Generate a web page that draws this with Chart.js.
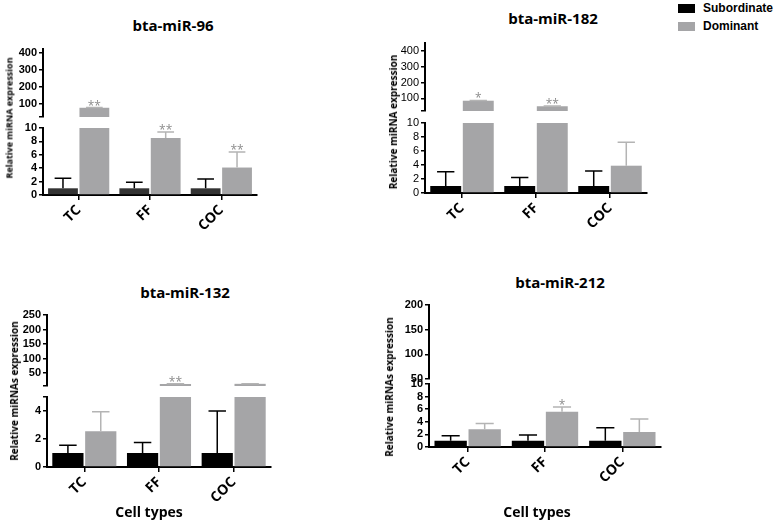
<!DOCTYPE html>
<html lang="en">
<head>
    <meta charset="utf-8">
    <title>miRNA expression in subordinate and dominant follicles</title>
    <style>
        body { margin: 0; background: #fff; }
        #page { position: relative; width: 774px; height: 522px; overflow: hidden; font-family: "Open Sans", sans-serif; }
        #page canvas { position: absolute; }
        .title { position: absolute; font-weight: bold; font-size: 15px; line-height: 20px; white-space: nowrap; transform: translateX(-50%); }
        .ytitle { position: absolute; font-weight: bold; white-space: nowrap; transform: translate(-50%, -50%) rotate(-90deg); }
        .xtitle { position: absolute; font-weight: bold; font-size: 14px; line-height: 18px; white-space: nowrap; transform: translate(-50%, -50%); }
        .legend { position: absolute; left: 678px; top: 0; font-family: "Liberation Sans", Arial, sans-serif; font-weight: bold; font-size: 12px; }
        .legend div { position: relative; height: 18px; line-height: 16px; padding-left: 25px; }
        .legend span { position: absolute; left: 0; top: 4px; width: 17px; height: 9px; }
    </style>
</head>
<body>
    <div id="page">
        <div class="legend">
            <div><span style="background:#000"></span>Subordinate</div>
            <div><span style="background:#a5a5a7"></span>Dominant</div>
        </div>
    </div>
    <script src="https://cdn.jsdelivr.net/npm/chart.js"></script>

    <script>
        var categories = ['TC', 'FF', 'COC'];

        // bta-miR-96
        var mir96Sub = [1, 1, 1];
        var mir96SubErr = [1.5, 0.9, 1.4];
        var mir96Dom = [75, 8.5, 4.1];
        var mir96DomErr = [1.5, 0.9, 2.3];
        var mir96Stars = ['**', '**', '**'];
        var mir96UpperTicks = [100, 200, 300, 400];
        var mir96LowerTicks = [0, 2, 4, 6, 8, 10];

        // bta-miR-182
        var mir182Sub = [1, 1, 1];
        var mir182SubErr = [2.05, 1.2, 2.15];
        var mir182Dom = [85, 50, 3.9];
        var mir182DomErr = [1.5, 1.5, 3.35];
        var mir182Stars = ['*', '**', ''];
        var mir182UpperTicks = [100, 200, 300, 400];
        var mir182LowerTicks = [0, 2, 4, 6, 8, 10];

        // bta-miR-132
        var mir132Sub = [1, 1, 1];
        var mir132SubErr = [0.55, 0.75, 3.0];
        var mir132Dom = [2.55, 12, 12.5];
        var mir132DomErr = [1.4, 0.4, 0.6];
        var mir132Stars = ['', '**', ''];
        var mir132UpperTicks = [50, 100, 150, 200, 250];
        var mir132LowerTicks = [0, 2, 4];

        // bta-miR-212
        var mir212Sub = [1, 1, 1];
        var mir212SubErr = [0.8, 0.9, 2.05];
        var mir212Dom = [2.8, 5.6, 2.4];
        var mir212DomErr = [0.95, 0.75, 2.05];
        var mir212Stars = ['', '*', ''];
        var mir212UpperTicks = [50, 100, 150, 200];
        var mir212LowerTicks = [0, 2, 4, 6, 8, 10];

        var DOM_COLOR = '#a5a5a7';
        var Y_W = 40;

        var panels = [
            { title: 'bta-miR-96', tx: 173, ty: 15, sub: mir96Sub, subErr: mir96SubErr, dom: mir96Dom, domErr: mir96DomErr, stars: mir96Stars,
              subColor: '#333', tickWeight: 'bold', axisX: 43, right: 257,
              upper: { top: 49, bottom: 117, min: 20, max: 425, ticks: mir96UpperTicks },
              lower: { top: 128, bottom: 195, min: 0, max: 10, ticks: mir96LowerTicks },
              yTitle: 'Relative miRNA expression', yx: 9, yy: 118, ySize: 9 },
            { title: 'bta-miR-182', tx: 553, ty: 8, sub: mir182Sub, subErr: mir182SubErr, dom: mir182Dom, domErr: mir182DomErr, stars: mir182Stars,
              subColor: '#000', tickWeight: 'normal', axisX: 425, right: 647,
              upper: { top: 43, bottom: 111, min: 20, max: 450, ticks: mir182UpperTicks },
              lower: { top: 123, bottom: 193, min: 0, max: 10, ticks: mir182LowerTicks },
              yTitle: 'Relative miRNA expression', yx: 393, yy: 122, ySize: 10 },
            { title: 'bta-miR-132', tx: 185, ty: 282, sub: mir132Sub, subErr: mir132SubErr, dom: mir132Dom, domErr: mir132DomErr, stars: mir132Stars,
              subColor: '#000', tickWeight: 'bold', axisX: 47, right: 271,
              upper: { top: 315, bottom: 386, min: 5, max: 250, ticks: mir132UpperTicks },
              lower: { top: 397, bottom: 467, min: 0, max: 5, ticks: mir132LowerTicks },
              yTitle: 'Relative miRNAs expression', yx: 14, yy: 391, ySize: 10, xTitle: 'Cell types', xx: 149, xy: 512 },
            { title: 'bta-miR-212', tx: 560, ty: 272, sub: mir212Sub, subErr: mir212SubErr, dom: mir212Dom, domErr: mir212DomErr, stars: mir212Stars,
              subColor: '#000', tickWeight: 'bold', axisX: 429, right: 661,
              upper: { top: 305, bottom: 379, min: 50, max: 200, ticks: mir212UpperTicks },
              lower: { top: 384, bottom: 447, min: 0, max: 10, ticks: mir212LowerTicks },
              yTitle: 'Relative miRNAs expression', yx: 389, yy: 387, ySize: 10, xTitle: 'Cell types', xx: 537, xy: 512 }
        ];

        // one-sided error bars and significance stars, placed with the y scale
        var errorBars = {
            id: 'errorBars',
            afterDatasetsDraw: function(chart) {
                var ctx = chart.ctx, y = chart.scales.y;
                chart.data.datasets.forEach(function(ds, di) {
                    chart.getDatasetMeta(di).data.forEach(function(bar, i) {
                        var v = ds.data[i];
                        if (v > y.max || v < y.min) return;
                        var top = y.getPixelForValue(v + ds.errors[i]);
                        var half = bar.width * 0.28;
                        ctx.save();
                        ctx.strokeStyle = ds.errorColor;
                        ctx.lineWidth = 1.5;
                        ctx.beginPath();
                        ctx.moveTo(bar.x, bar.y);
                        ctx.lineTo(bar.x, top);
                        ctx.moveTo(bar.x - half, top);
                        ctx.lineTo(bar.x + half, top);
                        ctx.stroke();
                        if (ds.stars[i]) {
                            ctx.fillStyle = '#8c8c8c';
                            ctx.font = '12px "Open Sans"';
                            ctx.textAlign = 'center';
                            ctx.textBaseline = 'alphabetic';
                            ctx.fillText(ds.stars[i], bar.x, top + 2);
                        }
                        ctx.restore();
                    });
                });
            }
        };

        var page = document.getElementById('page');

        function addText(cls, text, x, y, size) {
            var el = document.createElement('div');
            el.className = cls;
            el.textContent = text;
            el.style.left = x + 'px';
            el.style.top = y + 'px';
            if (size) el.style.fontSize = size + 'px';
            page.appendChild(el);
        }

        function makeSegment(p, seg, isLower) {
            var padTop = 10, padRight = 6;
            var padBottom = isLower ? 0 : 10;
            var xH = isLower ? 48 : 0;
            var w = Y_W + (p.right - p.axisX) + padRight;
            var h = padTop + (seg.bottom - seg.top) + padBottom + xH;
            var canvas = document.createElement('canvas');
            canvas.width = w;
            canvas.height = h;
            canvas.style.left = (p.axisX - Y_W) + 'px';
            canvas.style.top = (seg.top - padTop) + 'px';
            canvas.style.width = w + 'px';
            canvas.style.height = h + 'px';
            page.appendChild(canvas);

            var breakValue = isLower ? seg.max : seg.min;
            var tickValues = seg.ticks.indexOf(breakValue) < 0 ? [breakValue].concat(seg.ticks) : seg.ticks;

            return new Chart(canvas, {
                type: 'bar',
                data: {
                    labels: categories,
                    datasets: [
                        { label: 'Subordinate', data: p.sub, errors: p.subErr, stars: ['', '', ''], backgroundColor: p.subColor, errorColor: '#000' },
                        { label: 'Dominant', data: p.dom, errors: p.domErr, stars: p.stars, backgroundColor: DOM_COLOR, errorColor: '#b4b4b4' }
                    ]
                },
                options: {
                    responsive: false,
                    animation: false,
                    layout: { padding: { top: padTop, right: padRight, bottom: padBottom, left: 0 } },
                    plugins: { legend: { display: false }, tooltip: { enabled: false } },
                    datasets: { bar: { categoryPercentage: 0.88, barPercentage: 0.95 } },
                    scales: {
                        x: {
                            display: isLower,
                            grid: { drawOnChartArea: false, offset: false, tickLength: 5, color: '#000', lineWidth: 1.5 },
                            border: { color: '#000', width: 2 },
                            ticks: { autoSkip: false, minRotation: 45, maxRotation: 45, padding: 2, color: '#000', font: { family: '"Open Sans"', weight: 'bold', size: 14 } },
                            afterCalculateLabelRotation: function(s) { s.labelRotation = 45; },
                            afterFit: function(s) { s.height = xH; }
                        },
                        y: {
                            min: seg.min,
                            max: seg.max,
                            grid: { drawOnChartArea: false, tickLength: 4, color: '#000', lineWidth: 1.5 },
                            border: { color: '#000', width: 2 },
                            ticks: {
                                autoSkip: false,
                                padding: 2,
                                color: '#000',
                                font: { family: '"Liberation Sans"', weight: p.tickWeight, size: 11 },
                                callback: function(v) { return seg.ticks.indexOf(v) < 0 ? '' : v; }
                            },
                            afterBuildTicks: function(s) {
                                s.ticks = tickValues.map(function(v) { return { value: v }; });
                            },
                            afterFit: function(s) { s.width = Y_W; }
                        }
                    }
                },
                plugins: [errorBars]
            });
        }

        panels.forEach(function(p) {
            makeSegment(p, p.upper, false);
            makeSegment(p, p.lower, true);
            addText('title', p.title, p.tx, p.ty);
            addText('ytitle', p.yTitle, p.yx, p.yy, p.ySize);
            if (p.xTitle) addText('xtitle', p.xTitle, p.xx, p.xy);
        });
    </script>
</body>
</html>
